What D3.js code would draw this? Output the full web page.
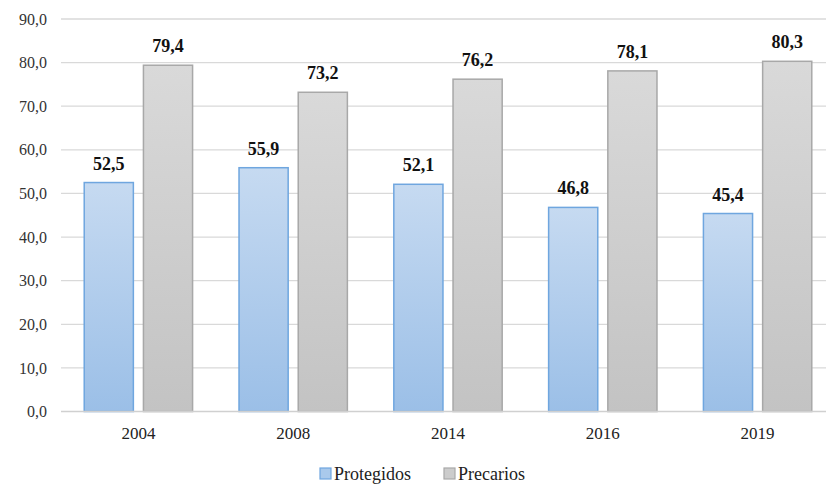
<!DOCTYPE html>
<html>
<head>
<meta charset="utf-8">
<script src="https://cdn.jsdelivr.net/npm/d3@7"></script>
</head>
<body style="margin:0;background:#fff">
<svg id="chart" width="826" height="491"></svg>
<script>
const years = ["2004", "2008", "2014", "2016", "2019"];
const protegidos = [52.5, 55.9, 52.1, 46.8, 45.4];
const precarios = [79.4, 73.2, 76.2, 78.1, 80.3];
const seriesNames = ["Protegidos", "Precarios"];
const yTicks = [0, 10, 20, 30, 40, 50, 60, 70, 80, 90];

const FONT = "Liberation Serif, Times New Roman, Tinos, serif";
const svg = d3.select("#chart");
const margin = { left: 61, top: 19 };
const plotRight = 835;
const plotBottom = 411.5;

const fmt = v => d3.format(".1f")(v).replace(".", ",");

const x = d3.scaleBand().domain(years).range([margin.left, plotRight]).paddingInner(0.3).paddingOuter(0.15);
const x1 = d3.scaleBand().domain(seriesNames).range([0, x.bandwidth()]).paddingInner(0.17);
const y = d3.scaleLinear().domain([0, 90]).range([plotBottom, margin.top]);

const defs = svg.append("defs");
const gBlue = defs.append("linearGradient").attr("id", "gBlue").attr("x1", 0).attr("y1", 0).attr("x2", 0).attr("y2", 1);
gBlue.append("stop").attr("offset", 0).attr("stop-color", "#c6daf1");
gBlue.append("stop").attr("offset", 1).attr("stop-color", "#9bbfe7");
const gGray = defs.append("linearGradient").attr("id", "gGray").attr("x1", 0).attr("y1", 0).attr("x2", 0).attr("y2", 1);
gGray.append("stop").attr("offset", 0).attr("stop-color", "#d9d9d9");
gGray.append("stop").attr("offset", 1).attr("stop-color", "#c3c3c3");

const fills = { Protegidos: "url(#gBlue)", Precarios: "url(#gGray)" };
const strokes = { Protegidos: "#6fa6df", Precarios: "#a8a8a8" };
const legendFills = { Protegidos: "#a9c9ec", Precarios: "#cccccc" };

// gridlines
svg.append("g")
  .selectAll("line")
  .data(yTicks.filter(d => d > 0))
  .join("line")
  .attr("x1", margin.left).attr("x2", plotRight)
  .attr("y1", d => y(d)).attr("y2", d => y(d))
  .attr("stroke", "#d9d9d9").attr("stroke-width", 1.3);

// bars
const data = years.map((yr, i) => ({ year: yr, values: [
  { key: "Protegidos", value: protegidos[i] },
  { key: "Precarios", value: precarios[i] }
]}));

const groups = svg.append("g").selectAll("g")
  .data(data).join("g")
  .attr("transform", d => `translate(${x(d.year)},0)`);

groups.selectAll("rect")
  .data(d => d.values).join("rect")
  .attr("x", d => x1(d.key))
  .attr("width", x1.bandwidth())
  .attr("y", d => y(d.value))
  .attr("height", d => y(0) - y(d.value))
  .attr("fill", d => fills[d.key])
  .attr("stroke", d => strokes[d.key])
  .attr("stroke-width", 1.5);

// baseline
svg.append("line")
  .attr("x1", margin.left).attr("x2", plotRight)
  .attr("y1", y(0)).attr("y2", y(0))
  .attr("stroke", "#d0d0d0").attr("stroke-width", 1.3);

// y axis labels
const yAxis = svg.append("g")
  .attr("transform", `translate(${margin.left},0)`)
  .call(d3.axisLeft(y).tickValues(yTicks).tickFormat(fmt).tickSize(0).tickPadding(14));
yAxis.select(".domain").remove();
yAxis.attr("font-family", null).attr("font-size", null);
yAxis.selectAll("text").attr("fill", "#333").style("font", `16px ${FONT}`);

// value labels
groups.selectAll("text.val")
  .data(d => d.values).join("text")
  .attr("class", "val")
  .attr("x", d => x1(d.key) + x1.bandwidth() / 2)
  .attr("y", d => y(d.value) - 13)
  .attr("text-anchor", "middle")
  .attr("fill", "#111")
  .style("font", `bold 18px ${FONT}`)
  .text(d => fmt(d.value));

// x axis labels
const xAxis = svg.append("g")
  .attr("transform", `translate(0,${y(0)})`)
  .call(d3.axisBottom(x).tickSize(0).tickPadding(15));
xAxis.select(".domain").remove();
xAxis.attr("font-family", null).attr("font-size", null);
xAxis.selectAll("text").attr("fill", "#222").style("font", `17px ${FONT}`);

// legend
const legend = svg.append("g").attr("transform", "translate(320,468)");
const legendX = [0, 124];
seriesNames.forEach((name, i) => {
  const g = legend.append("g").attr("transform", `translate(${legendX[i]},0)`);
  g.append("rect").attr("x", 0).attr("y", 0).attr("width", 11).attr("height", 11)
    .attr("fill", legendFills[name]).attr("stroke", strokes[name]).attr("stroke-width", 1.2);
  g.append("text").attr("x", 14).attr("y", 12)
    .attr("fill", "#222").style("font", `18px ${FONT}`).text(name);
});

// once the serif faces are ready, re-apply the label fonts so they repaint
if (document.fonts && document.fonts.load) {
  Promise.all([
    document.fonts.load(`16px "Liberation Serif"`),
    document.fonts.load(`bold 18px "Liberation Serif"`)
  ]).then(() => {
    svg.selectAll("text").each(function () {
      const f = this.style.font;
      this.style.font = "";
      this.style.font = f;
    });
  }).catch(() => {});
}
</script>
</body>
</html>
